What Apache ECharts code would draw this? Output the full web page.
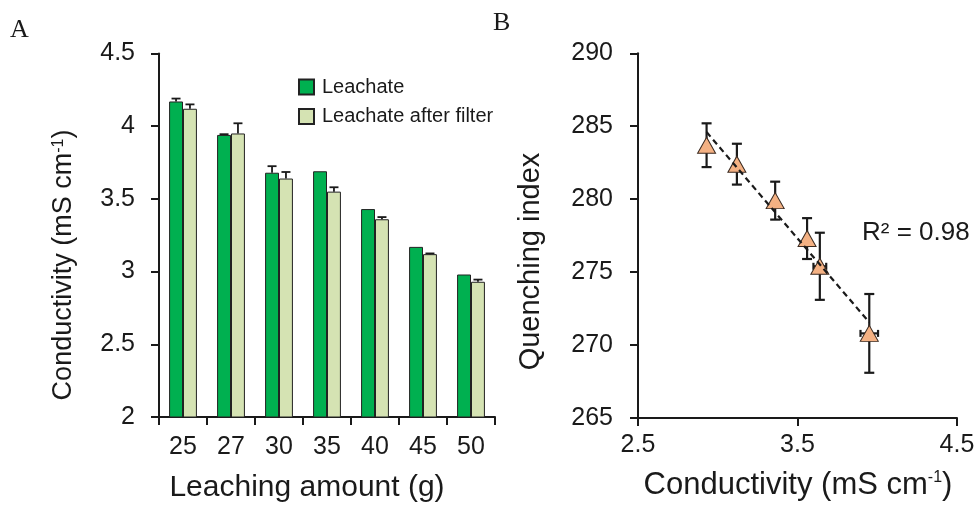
<!DOCTYPE html>
<html>
<head>
<meta charset="utf-8">
<script src="https://cdn.jsdelivr.net/npm/echarts@6/dist/echarts.min.js"></script>
<style>
  html, body { margin: 0; padding: 0; background: #fff; }
  #chart { width: 979px; height: 506px; }
</style>
</head>
<body>
<div id="chart"></div>
<script>
// A: leaching amount vs conductivity
var amounts = ['25', '27', '30', '35', '40', '45', '50'];
var leachate = [4.17, 3.94, 3.68, 3.69, 3.43, 3.17, 2.98];
var leachateErr = [0.02, 0.005, 0.045, 0, 0, 0, 0];
var filtered = [4.12, 3.95, 3.64, 3.55, 3.36, 3.12, 2.93];
var filteredErr = [0.03, 0.07, 0.045, 0.03, 0.015, 0.005, 0.015];

// B: conductivity vs quenching index
var conductivity = [2.93, 3.12, 3.36, 3.56, 3.64, 3.95];
var condErr = [0, 0, 0, 0, 0.04, 0.055];
var quenching = [283.7, 282.4, 279.9, 277.3, 275.4, 270.8];
var quenchErr = [1.5, 1.4, 1.3, 1.4, 2.3, 2.7];

var ink = '#1a1a1a';
var sans = 'Liberation Sans, Arial, sans-serif';
var barFrac = 0.29;

// linear fit for the trend line
function linFit(xs, ys){
    var n = xs.length, mx = 0, my = 0, sxy = 0, sxx = 0;
    for(var i=0; i<n; i++){ mx += xs[i]; my += ys[i]; }
    mx /= n; my /= n;
    for(var i=0; i<n; i++){
        sxy += (xs[i]-mx)*(ys[i]-my);
        sxx += (xs[i]-mx)*(xs[i]-mx);
    }
    var k = sxy/sxx;
    return function(x){ return my + k*(x-mx); };
}
var fit = linFit(conductivity, quenching);
var xMin = Math.min.apply(null, conductivity);
var xMax = Math.max.apply(null, conductivity);

var barErrData = [];
for(var i=0; i<amounts.length; i++){
    barErrData.push([i, leachate[i], leachateErr[i], -1]);
    barErrData.push([i, filtered[i], filteredErr[i], 1]);
}
var scatterErrData = [];
for(var i=0; i<conductivity.length; i++){
    scatterErrData.push([conductivity[i], quenching[i], quenchErr[i], condErr[i]]);
}

function renderBarErr(params, api){
    var err = api.value(2);
    if(!err) return null;
    var idx = api.value(0), val = api.value(1), side = api.value(3);
    var band = api.size([1, 0])[0];
    var p = api.coord([idx, val]);
    var t = api.coord([idx, val + err]);
    var x = p[0] + side*band*barFrac/2;
    var cw = 9;
    var st = { stroke: ink, lineWidth: 1.8 };
    return { type: 'group', children: [
        { type: 'line', shape: { x1: x, y1: p[1], x2: x, y2: t[1] }, style: st },
        { type: 'line', shape: { x1: x - cw/2, y1: t[1], x2: x + cw/2, y2: t[1] }, style: st }
    ] };
}

function renderScatterErr(params, api){
    var x = api.value(0), y = api.value(1), ey = api.value(2), ex = api.value(3);
    var top = api.coord([x, y + ey]);
    var bot = api.coord([x, y - ey]);
    var cw = 10, kids = [];
    var st = { stroke: ink, lineWidth: 2.2 };
    kids.push({ type: 'line', shape: { x1: top[0], y1: top[1], x2: bot[0], y2: bot[1] }, style: st });
    kids.push({ type: 'line', shape: { x1: top[0]-cw/2, y1: top[1], x2: top[0]+cw/2, y2: top[1] }, style: st });
    kids.push({ type: 'line', shape: { x1: bot[0]-cw/2, y1: bot[1], x2: bot[0]+cw/2, y2: bot[1] }, style: st });
    if(ex){
        var l = api.coord([x - ex, y]);
        var r = api.coord([x + ex, y]);
        var ch = 7;
        kids.push({ type: 'line', shape: { x1: l[0], y1: l[1], x2: r[0], y2: r[1] }, style: st });
        kids.push({ type: 'line', shape: { x1: l[0], y1: l[1]-ch/2, x2: l[0], y2: l[1]+ch/2 }, style: st });
        kids.push({ type: 'line', shape: { x1: r[0], y1: r[1]-ch/2, x2: r[0], y2: r[1]+ch/2 }, style: st });
    }
    return { type: 'group', children: kids };
}

var axisLine = { show: true, lineStyle: { color: ink, width: 2 } };
var axisTick = { show: true, length: 8, lineStyle: { color: ink, width: 2 } };
var supRich = { sup: { fontSize: 16, fontFamily: sans, color: ink, verticalAlign: 'top', padding: [0, 0, 8, 0] } };

function titleText(x, y, text, size, rot, align){
    return {
        type: 'text', x: x, y: y, rotation: rot || 0,
        style: {
            text: text, fill: ink, font: size + 'px ' + sans,
            textAlign: align || 'center', textVerticalAlign: 'middle',
            rich: supRich
        }
    };
}

var option = {
    animation: false,
    backgroundColor: '#fff',
    textStyle: { fontFamily: sans, color: ink },
    grid: [
        { left: 159, right: 484, top: 53.5, bottom: 89 },
        { left: 638, right: 22, top: 53.3, bottom: 88 }
    ],
    legend: {
        data: ['Leachate', 'Leachate after filter'],
        orient: 'vertical', left: 293, top: 72,
        itemWidth: 15, itemHeight: 15, itemGap: 9.5,
        icon: 'rect',
        textStyle: { fontSize: 20, color: ink, fontFamily: sans, padding: [0, 0, 0, 3] }
    },
    xAxis: [
        {
            type: 'category', gridIndex: 0, data: amounts,
            axisLine: axisLine, axisTick: axisTick,
            axisLabel: { fontSize: 25, color: ink, margin: 18 },
            splitLine: { show: false }
        },
        {
            type: 'value', gridIndex: 1, min: 2.5, max: 4.5, interval: 1,
            axisLine: axisLine, axisTick: axisTick,
            axisLabel: { fontSize: 25, color: ink, margin: 15,
                formatter: function(v){ return v.toFixed(1); } },
            splitLine: { show: false }
        }
    ],
    yAxis: [
        {
            type: 'value', gridIndex: 0, min: 2, max: 4.5, interval: 0.5,
            axisLine: axisLine, axisTick: axisTick,
            axisLabel: { fontSize: 25, color: ink, margin: 24, padding: [0, 0, 6, 0] },
            splitLine: { show: false }
        },
        {
            type: 'value', gridIndex: 1, min: 265, max: 290, interval: 5,
            axisLine: axisLine, axisTick: axisTick,
            axisLabel: { fontSize: 25, color: ink, margin: 25 },
            splitLine: { show: false }
        }
    ],
    series: [
        {
            name: 'Leachate', type: 'bar', xAxisIndex: 0, yAxisIndex: 0,
            data: leachate, barWidth: (barFrac*100) + '%', barGap: '0%',
            itemStyle: { color: '#00b050', borderColor: '#222', borderWidth: 1 }
        },
        {
            name: 'Leachate after filter', type: 'bar', xAxisIndex: 0, yAxisIndex: 0,
            data: filtered, barWidth: (barFrac*100) + '%', barGap: '0%',
            itemStyle: { color: '#d5e3b3', borderColor: '#222', borderWidth: 1 }
        },
        {
            name: 'barErr', type: 'custom', xAxisIndex: 0, yAxisIndex: 0,
            data: barErrData, renderItem: renderBarErr, z: 3, silent: true
        },
        {
            name: 'scatterErr', type: 'custom', xAxisIndex: 1, yAxisIndex: 1,
            data: scatterErrData, renderItem: renderScatterErr, z: 2, silent: true
        },
        {
            name: 'Quenching', type: 'scatter', xAxisIndex: 1, yAxisIndex: 1,
            data: conductivity.map(function(c, i){ return [c, quenching[i]]; }),
            symbol: 'triangle', symbolSize: [18, 16], z: 3,
            itemStyle: { color: '#f4b183', borderColor: '#3a2a20', borderWidth: 1, opacity: 1 }
        },
        {
            name: 'trend', type: 'line', xAxisIndex: 1, yAxisIndex: 1,
            data: [[xMin, fit(xMin)], [xMax, fit(xMax)]],
            symbol: 'none', z: 4, silent: true,
            lineStyle: { color: ink, width: 2.2, type: [6, 4] }
        }
    ],
    graphic: [
        { type: 'text', left: 10, top: 17, style: { text: 'A', fill: ink, font: '26px Liberation Serif, Times New Roman, serif' } },
        { type: 'text', left: 493, top: 10, style: { text: 'B', fill: ink, font: '26px Liberation Serif, Times New Roman, serif' } },
        titleText(64, 265, 'Conductivity (mS cm{sup|-1})', 27, Math.PI/2),
        titleText(307, 488, 'Leaching amount (g)', 30),
        titleText(531, 261.5, 'Quenching index', 29, Math.PI/2),
        titleText(798, 485.5, 'Conductivity (mS cm{sup|-1})', 31),
        titleText(862, 232.5, 'R² = 0.98', 26, 0, 'left')
    ]
};

var chart = echarts.init(document.getElementById('chart'));
chart.setOption(option);
window.onresize = chart.resize;
</script>
</body>
</html>
